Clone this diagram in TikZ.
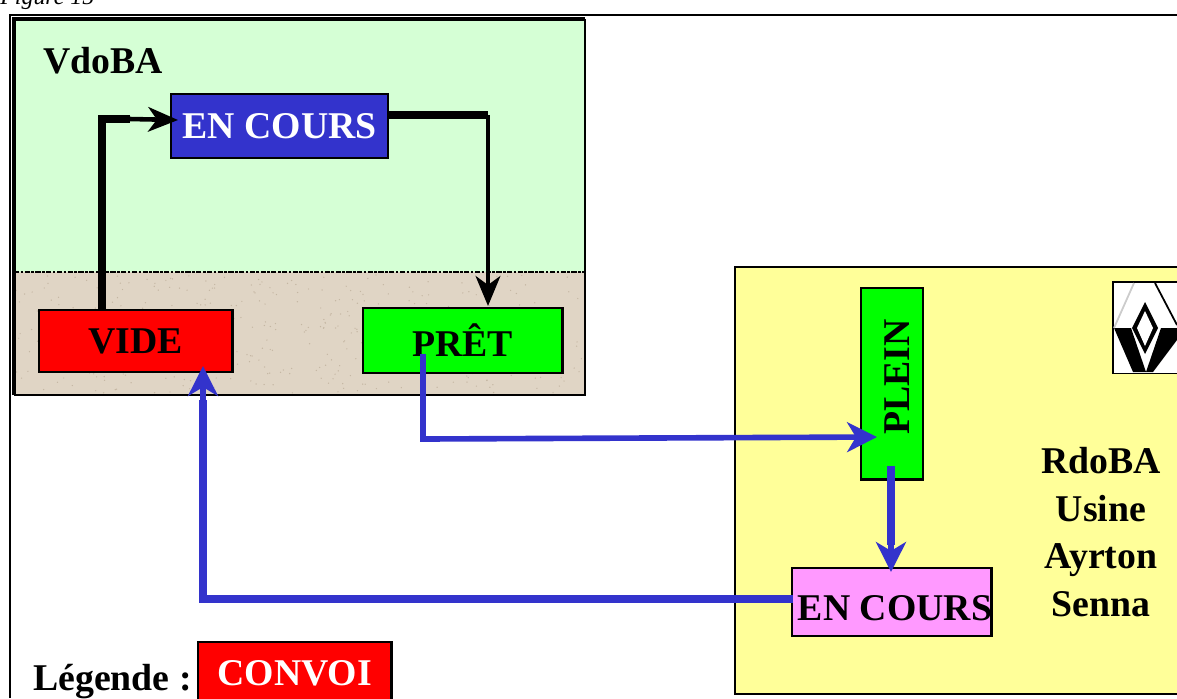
\documentclass[tikz,border=0pt]{standalone}
\usepackage{fontspec}
\setmainfont{Liberation Serif}
\usepackage{tikz}
\usepackage{xcolor}
\usetikzlibrary{arrows.meta,positioning,calc}
\definecolor{Menthe}{HTML}{D5FFD5}
\definecolor{Sable}{HTML}{E0D5C5}
\definecolor{SableDark}{HTML}{C4B6A2}
\definecolor{Indigo}{HTML}{3333CC}
\definecolor{Rouge}{HTML}{FF0000}
\definecolor{Vert}{HTML}{00FF00}
\definecolor{Rose}{HTML}{FF99FF}
\definecolor{Jaune}{HTML}{FFFF99}
\tikzset{
  etat/.style={draw=black,line width=1.3pt,inner sep=0pt,anchor=north west,font=\fontsize{21.5}{24}\selectfont\bfseries},
  titre/.style={font=\fontsize{21.5}{27}\selectfont\bfseries,inner sep=0pt},
  fleche/.style={line width=#1,-{Stealth[length=17pt,width=14pt,inset=5pt]}},
  flecheb/.style={Indigo,line width=3.2pt,-{Stealth[length=17pt,width=17pt,inset=5pt]}},
}
\begin{document}
\begin{tikzpicture}[x=0.02cm,y=-0.02cm]
  \useasboundingbox (0,0) rectangle (1177,698);
  \node[anchor=base west,inner sep=0pt,font=\fontsize{13.6}{15}\selectfont\itshape] (figure) at (0,4) {Figure 15};
  \draw[line width=1pt] (10,698) -- (10,15) -- (1177,15);
  % zone VdoBA
  \fill[Menthe] (14,19) rectangle (585,272);
  \fill[Sable] (14,272) rectangle (585,395);
  \pgfmathsetseed{7}
  \foreach \i in {1,...,420}{
    \fill[SableDark] ({16+rnd*567},{275+rnd*118}) circle (0.7);
  }
  \draw[line width=1.6pt,dash pattern=on 3pt off 0.8pt on 1.5pt off 0.8pt] (14,272) -- (585,272);
  \draw[line width=2.2pt] (14,395) -- (14,19) -- (585,19);
  \draw[line width=1pt] (585,19) -- (585,395) -- (14,395);
  % zone RdoBA
  \path[fill=Jaune,draw=black,line width=1pt] (1180,267) -- (735,267) -- (735,694) -- (1180,694);
  \node[titre,anchor=west] (vdoba) at (43,61) {VdoBA};
  \node[etat,fill=Indigo,text=white,minimum width=218*0.567pt,minimum height=64*0.567pt] (cours) at (170,93) {\raisebox{-1pt}{EN COURS}};
  \node[etat,fill=Rouge,minimum width=194*0.567pt,minimum height=62*0.567pt] (vide) at (38,309) {VIDE};
  \node[etat,fill=Vert,minimum width=200*0.567pt,minimum height=65*0.567pt] (pret) at (362,307) {PRÊT};
  \node[etat,fill=Vert,minimum width=62*0.567pt,minimum height=192*0.567pt] (plein) at (860,287) {};
  \node[rotate=90,font=\fontsize{21.5}{24}\selectfont\bfseries,inner sep=0pt] (pleinlbl) at (897,377) {PLEIN};
  \node[etat,fill=Rose,minimum width=200*0.567pt,minimum height=68*0.567pt] (livre) at (791,567) {};
  \node[font=\fontsize{21.5}{24}\selectfont\bfseries,inner sep=0pt] (livrelbl) at (895,608) {EN COURS};
  \node[titre,align=center] (rdoba) at (1101,532) {RdoBA\\Usine\\Ayrton\\Senna};
  \node[titre,anchor=base west] (legende) at (33,690) {Légende :};
  \node[etat,fill=Rouge,text=white,minimum width=194*0.567pt,minimum height=62*0.567pt] (convoi) at (197,641) {CONVOI};
  % logo
  \node[draw=black,fill=white,line width=1pt,anchor=north west,minimum width=66*0.567pt,minimum height=92*0.567pt,inner sep=0pt] (logo) at (1112,281) {};
  \fill[black] (1114,328) -- (1131,328) -- (1146,372) -- (1133,372) -- cycle;
  \fill[black] (1177,328) -- (1161,328) -- (1146,372) -- (1153,372) -- (1177,340) -- cycle;
  \draw[gray!40,line width=1pt] (1114,328) -- (1134,283);
  \draw[black,line width=1pt] (1155,283) -- (1177,325);
  \fill[black] (1145,302) -- (1158,328) -- (1145,354) -- (1132,328) -- cycle;
  \fill[white] (1145,311) -- (1153,328) -- (1145,346) -- (1137,328) -- cycle;
  % circulation interne
  \coordinate (videhaut) at (102,309);
  \coordinate (coudea) at (102,119);
  \coordinate (coursb) at (389,115);
  \coordinate (coudeb) at (488,115);
  \draw[line width=4.2pt] (videhaut) -- (coudea) -- (130,119);
  \draw[fleche=2.6pt] (130,119) -- (178,120);
  \draw[line width=4.2pt] (coursb) -- (coudeb);
  \draw[line width=2.6pt] (coudeb) -- (488,270);
  \draw[fleche=2.6pt] (488,265) -- (488,306);
  % circulation convoi
  \coordinate (preta) at (423,354);
  \coordinate (coudec) at (423,439);
  \coordinate (pleina) at (877,437);
  \draw[flecheb] (preta) -- (coudec) -- (pleina);
  \coordinate (pleinb) at (891,466);
  \coordinate (livreh) at (891,572);
  \draw[Indigo,line width=5pt] (pleinb) -- (891,545);
  \draw[flecheb] (891,540) -- (livreh);
  \coordinate (livreg) at (793,599);
  \coordinate (coudee) at (203,599);
  \coordinate (videb) at (203,366);
  \draw[Indigo,line width=4.5pt] (livreg) -- (coudee) -- (203,400);
  \draw[flecheb] (203,400) -- (videb);
\end{tikzpicture}
\end{document}
